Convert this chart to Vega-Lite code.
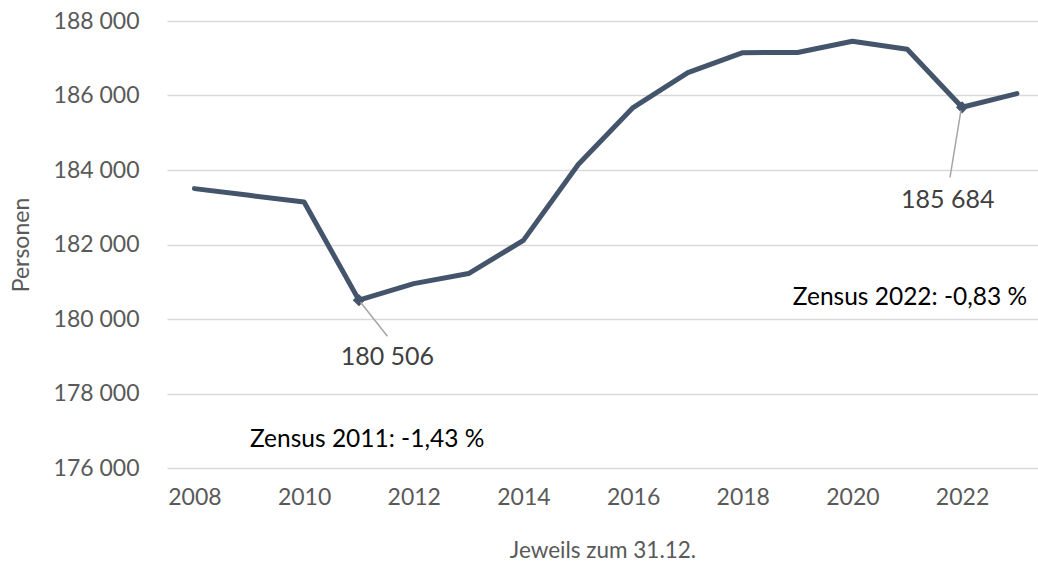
{
  "$schema": "https://vega.github.io/schema/vega-lite/v6.json",
  "autosize": {"type": "none"},
  "width": 871,
  "height": 447,
  "padding": {"left": 167, "top": 21, "right": 0, "bottom": 104},
  "background": "white",
  "config": {"view": {"stroke": null}, "font": "Lato"},
  "datasets": {
    "pop": [
      {"Jahr": 2008, "Personen": 183500},
      {"Jahr": 2009, "Personen": 183320},
      {"Jahr": 2010, "Personen": 183140},
      {"Jahr": 2011, "Personen": 180506},
      {"Jahr": 2012, "Personen": 180950},
      {"Jahr": 2013, "Personen": 181220},
      {"Jahr": 2014, "Personen": 182110},
      {"Jahr": 2015, "Personen": 184150},
      {"Jahr": 2016, "Personen": 185675},
      {"Jahr": 2017, "Personen": 186615},
      {"Jahr": 2018, "Personen": 187150},
      {"Jahr": 2019, "Personen": 187155},
      {"Jahr": 2020, "Personen": 187455},
      {"Jahr": 2021, "Personen": 187240},
      {"Jahr": 2022, "Personen": 185684},
      {"Jahr": 2023, "Personen": 186050}
    ],
    "leaders": [
      {"x": 2011.03, "y": 180450, "x2": 2011.52, "y2": 179535},
      {"x": 2021.98, "y": 185600, "x2": 2021.78, "y2": 183804}
    ],
    "labels": [
      {"x": 2011.52, "y": 178971, "t": "180 506", "kind": "value"},
      {"x": 2021.74, "y": 183187, "t": "185 684", "kind": "value"},
      {"x": 2011.15, "y": 176744, "t": "Zensus 2011: -1,43 %", "kind": "note"},
      {"x": 2021.05, "y": 180556, "t": "Zensus 2022: -0,83 %", "kind": "note"}
    ]
  },
  "layer": [
    {
      "data": {"name": "pop"},
      "mark": {"type": "line", "color": "#44546A", "strokeWidth": 5, "strokeJoin": "round", "strokeCap": "round"},
      "encoding": {
        "x": {
          "field": "Jahr", "type": "quantitative",
          "scale": {"domain": [2007.5, 2023.385], "nice": false, "zero": false},
          "axis": {
            "values": [2008, 2010, 2012, 2014, 2016, 2018, 2020, 2022],
            "format": "d", "grid": false, "domain": false, "ticks": false,
            "labelFontSize": 23, "labelColor": "#595959", "labelPadding": 18,
            "title": "Jeweils zum 31.12.", "titleFontSize": 22.5, "titleFontWeight": "normal",
            "titleColor": "#595959", "titlePadding": 30
          }
        },
        "y": {
          "field": "Personen", "type": "quantitative",
          "scale": {"domain": [176000, 188000], "nice": false, "zero": false},
          "axis": {
            "values": [176000, 178000, 180000, 182000, 184000, 186000, 188000],
            "labelExpr": "replace(format(datum.value, ','), ',', ' ')",
            "grid": true, "gridColor": "#D9D9D9", "gridWidth": 1.5,
            "domain": false, "ticks": false,
            "labelFontSize": 23, "labelColor": "#595959", "labelPadding": 28,
            "title": "Personen", "titleFontSize": 23, "titleFontWeight": "normal",
            "titleColor": "#595959", "titlePadding": 20
          }
        }
      }
    },
    {
      "data": {"name": "pop"},
      "transform": [{"filter": "datum.Jahr == 2011 || datum.Jahr == 2022"}],
      "mark": {"type": "point", "shape": "diamond", "filled": true, "color": "#44546A", "size": 150, "opacity": 1},
      "encoding": {
        "x": {"field": "Jahr", "type": "quantitative"},
        "y": {"field": "Personen", "type": "quantitative"}
      }
    },
    {
      "data": {"name": "leaders"},
      "mark": {"type": "rule", "color": "#A6A6A6", "strokeWidth": 1.5},
      "encoding": {
        "x": {"field": "x", "type": "quantitative"},
        "y": {"field": "y", "type": "quantitative"},
        "x2": {"field": "x2"},
        "y2": {"field": "y2"}
      }
    },
    {
      "data": {"name": "labels"},
      "transform": [{"filter": "datum.kind == 'value'"}],
      "mark": {"type": "text", "fontSize": 25, "color": "#404040", "align": "center", "baseline": "middle"},
      "encoding": {
        "x": {"field": "x", "type": "quantitative"},
        "y": {"field": "y", "type": "quantitative"},
        "text": {"field": "t"}
      }
    },
    {
      "data": {"name": "labels"},
      "transform": [{"filter": "datum.kind == 'note'"}],
      "mark": {"type": "text", "fontSize": 24.5, "color": "#000000", "align": "center", "baseline": "middle"},
      "encoding": {
        "x": {"field": "x", "type": "quantitative"},
        "y": {"field": "y", "type": "quantitative"},
        "text": {"field": "t"}
      }
    }
  ]
}
